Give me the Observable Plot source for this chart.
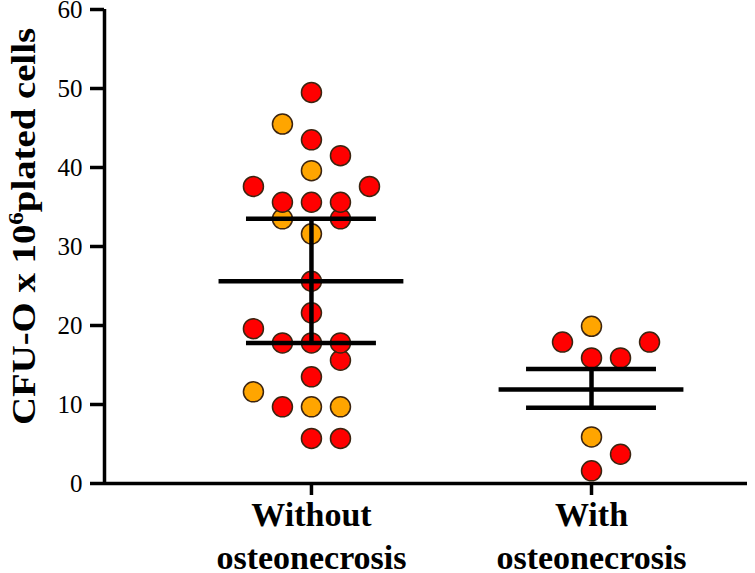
<!DOCTYPE html>
<html>
<head>
<meta charset="utf-8">
<script src="https://cdn.jsdelivr.net/npm/d3@7"></script>
<script src="https://cdn.jsdelivr.net/npm/@observablehq/plot@0.6"></script>
<style>
  html, body { margin: 0; padding: 0; background: #ffffff; }
  #chart { width: 755px; height: 573px; }
</style>
</head>
<body>
<div id="chart"></div>
<script>
// ---- data ----
const categories = ["Without\nosteonecrosis", "With\nosteonecrosis"];
const yTicks = [0, 10, 20, 30, 40, 50, 60];
const yLabel = "CFU-O x 10⁶plated cells";

// group "Without osteonecrosis"
const withoutValues = [49.5, 45.5, 43.5, 41.5, 39.6, 37.6, 37.6, 35.6, 35.6, 35.6, 33.5, 33.5, 31.6,
                       25.6, 21.6, 19.6, 17.8, 17.8, 17.8, 15.6, 13.5, 11.6, 9.7, 9.7, 9.7, 5.7, 5.7];
const withoutSlot   = [0, -1, 0, 1, 0, -2, 2, -1, 0, 1, -1, 1, 0,
                       0, 0, -2, -1, 0, 1, 1, 0, -2, -1, 0, 1, 0, 1];
const withoutTone   = ["red", "orange", "red", "red", "orange", "red", "red", "red", "red", "red", "orange", "red", "orange",
                       "red", "red", "red", "red", "red", "red", "red", "red", "orange", "red", "orange", "orange", "red", "red"];

// group "With osteonecrosis"
const withValues = [19.9, 17.9, 17.9, 15.9, 15.9, 5.9, 3.7, 1.6];
const withSlot   = [0, -1, 2, 0, 1, 0, 1, 0];
const withTone   = ["orange", "red", "red", "red", "red", "orange", "red", "red"];

// summary lines (centre line and error bars)
const centerValues = [25.6, 11.9];
const lowerValues  = [17.8, 9.6];
const upperValues  = [33.5, 14.5];

// ---- build tables ----
const points = [
  ...withoutValues.map((v, i) => ({g: 0, v, slot: withoutSlot[i], tone: withoutTone[i]})),
  ...withValues.map((v, i) => ({g: 1, v, slot: withSlot[i], tone: withTone[i]}))
].sort((a, b) => a.v - b.v);

const stats = categories.map((c, i) => ({g: i, center: centerValues[i], lower: lowerValues[i], upper: upperValues[i]}));

const xDomain = [-0.739, 1.557];
const slotStep = 0.1036;
const meanHalf = 0.33;
const capHalf = 0.232;
const lineW = 4.5;
const axisW = 3.5;

const chart = Plot.plot({
  width: 755,
  height: 573,
  marginLeft: 104,
  marginRight: 8,
  marginTop: 9,
  marginBottom: 90,
  x: {domain: xDomain, axis: null},
  y: {domain: [0, 60], axis: null},
  color: {domain: ["red", "orange"], range: ["#ee0d0d", "#f6ad47"]},
  style: {fontFamily: "'Liberation Serif', 'Times New Roman', serif", color: "black", background: "white", overflow: "visible"},
  marks: [
    Plot.axisY(yTicks, {tickSize: 14, tickPadding: 8, fontSize: 25, strokeWidth: axisW, label: null, tickFormat: d => String(d)}),
    Plot.axisX([0, 1], {tickSize: 12, tickPadding: 1, tickFormat: i => categories[i], fontSize: 34, fontWeight: "bold", lineHeight: 1.24, strokeWidth: axisW, label: null}),
    Plot.ruleY([0], {strokeWidth: axisW}),
    Plot.ruleX([xDomain[0]], {y1: 0, y2: 60, strokeWidth: axisW}),
    Plot.dot(points, {x: d => d.g + d.slot * slotStep, y: "v", r: 10, fill: "tone", stroke: "#3b2410", strokeWidth: 1.5}),
    Plot.ruleY(stats, {y: "center", x1: d => d.g - meanHalf, x2: d => d.g + meanHalf, strokeWidth: lineW}),
    Plot.ruleY(stats, {y: "lower", x1: d => d.g - capHalf, x2: d => d.g + capHalf, strokeWidth: lineW}),
    Plot.ruleY(stats, {y: "upper", x1: d => d.g - capHalf, x2: d => d.g + capHalf, strokeWidth: lineW}),
    Plot.ruleX(stats, {x: "g", y1: "lower", y2: "upper", strokeWidth: lineW}),
    Plot.text([yLabel], {frameAnchor: "left", textAnchor: "middle", rotate: -90, dx: -80.5, dy: -20, fontSize: 33, fontWeight: "bold"})
  ]
});

document.getElementById("chart").appendChild(chart);

// superscript and stretch along the reading direction for the y title
const t = d3.select(chart).selectAll("text").filter(function() { return this.textContent === yLabel; });
if (!t.empty()) {
  const parts = yLabel.split("⁶");
  t.text(null);
  t.append("tspan").text(parts[0]);
  t.append("tspan").attr("dy", "-0.55em").attr("font-size", "0.65em").text("6");
  t.append("tspan").attr("dy", "0.36em").text(parts[1]);
  t.attr("textLength", 397).attr("lengthAdjust", "spacingAndGlyphs");
}
</script>
</body>
</html>
